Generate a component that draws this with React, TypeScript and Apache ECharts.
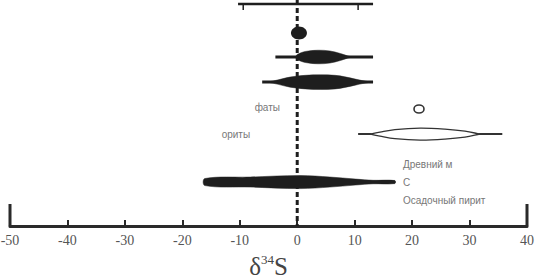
import React, { useEffect, useRef } from "react";
import * as echarts from "echarts";

// x axis
const xMin = -50;
const xMax = 40;
const xStep = 10;

// rows (y in row units, axis inverted)
const yMax = 9;
const rowTop = 0.16;
const rowDot = 1.31;
const row2 = 2.27;
const row3 = 3.27;
const rowOpenDot = 4.34;
const rowOpenLens = 5.34;
const rowBig = 7.25;

// top bar
const topRange = [-10.3, 13.2];
const topTicks = [-9.4, 10.6];

// filled dot
const dotX = 0.3;

// row 2 spindle
const range2 = [-3.8, 13.2];
const profile2 = [[-0.3, 0], [0, 0.1], [1.4, 0.22], [3.6, 0.27], [5.7, 0.24], [7.5, 0.14], [8.7, 0.05], [9.5, 0]];

// row 3 spindle
const range3 = [-6.1, 13.2];
const profile3 = [[-5.1, 0], [-3.3, 0.09], [-1.25, 0.2], [1.4, 0.27], [4.0, 0.29], [6.6, 0.27], [8.3, 0.21], [10.1, 0.12], [11.3, 0.06], [12.3, 0.02]];

// open dot
const openDotX = 21.2;

// open lens
const rangeOpen = [10.6, 35.7];
const profileOpen = [[12.7, 0], [14.4, 0.08], [17.0, 0.18], [21.4, 0.24], [25.7, 0.2], [29.2, 0.12], [31.8, 0]];

// big spindle
const rangeBig = [-16.1, 17.0];
const profileBig = [[-16.1, 0.14], [-8.2, 0.2], [0.5, 0.26], [5.7, 0.2], [10.1, 0.12], [13.2, 0.07], [17.0, 0.06]];

// notes
const leftNotes = ["фаты", "ориты"];
const leftNoteX = [-3.0, -8.2];
const leftNoteY = [4.3, 5.34];
const rightNotes = ["Древний м", "С", "Осадочный пирит"];
const rightNoteX = 18.4;
const rightNoteY = [6.57, 7.25, 7.97];

// end ticks of the bottom axis
const endTickFrom = 8.12;

const INK = "#1e1e1e";
const SERIF = "Liberation Serif, DejaVu Serif, serif";

type Shape =
  | { kind: "bar"; range: number[]; y: number; ticks?: number[]; width: number; color: string }
  | { kind: "lens"; profile: number[][]; y: number; fill: string; stroke: string; lw: number }
  | { kind: "dot"; x: number; y: number; rx: number; ry: number; fill: string; stroke: string; lw: number }
  | { kind: "text"; text: string; x: number; y: number; align: string };

const shapes: Shape[] = [
  { kind: "bar", range: topRange, y: rowTop, ticks: topTicks, width: 2.5, color: INK },
  { kind: "dot", x: dotX, y: rowDot, rx: 8, ry: 6.5, fill: INK, stroke: INK, lw: 0 },
  { kind: "bar", range: range2, y: row2, width: 3, color: INK },
  { kind: "lens", profile: profile2, y: row2, fill: INK, stroke: INK, lw: 0.5 },
  { kind: "bar", range: range3, y: row3, width: 3, color: INK },
  { kind: "lens", profile: profile3, y: row3, fill: INK, stroke: INK, lw: 0.5 },
  { kind: "dot", x: openDotX, y: rowOpenDot, rx: 5, ry: 4, fill: "#fff", stroke: "#333", lw: 1.6 },
  { kind: "bar", range: rangeOpen, y: rowOpenLens, width: 2, color: "#333" },
  { kind: "lens", profile: profileOpen, y: rowOpenLens, fill: "#fff", stroke: "#333", lw: 1.3 },
  { kind: "bar", range: rangeBig, y: rowBig, width: 3, color: INK },
  { kind: "lens", profile: profileBig, y: rowBig, fill: INK, stroke: INK, lw: 0.5 },
  ...leftNotes.map((t, i) => ({ kind: "text" as const, text: t, x: leftNoteX[i], y: leftNoteY[i], align: "right" })),
  ...rightNotes.map((t, i) => ({ kind: "text" as const, text: t, x: rightNoteX, y: rightNoteY[i], align: "left" })),
];

function renderItem(params: any, api: any) {
  const s = shapes[params.dataIndex];
  if (s.kind === "bar") {
    const a = api.coord([s.range[0], s.y]);
    const b = api.coord([s.range[1], s.y]);
    const children: any[] = [
      { type: "line", shape: { x1: a[0], y1: a[1], x2: b[0], y2: b[1] }, style: { stroke: s.color, lineWidth: s.width } },
    ];
    (s.ticks || []).forEach((t) => {
      const p = api.coord([t, s.y]);
      children.push({ type: "line", shape: { x1: p[0], y1: p[1], x2: p[0], y2: p[1] + 6 }, style: { stroke: s.color, lineWidth: 1.5 } });
    });
    return { type: "group", children };
  }
  if (s.kind === "lens") {
    const top = s.profile.map(([x, h]) => api.coord([x, s.y - h]));
    const bot = s.profile.slice().reverse().map(([x, h]) => api.coord([x, s.y + h]));
    return {
      type: "polygon",
      shape: { points: top.concat(bot), smooth: 0.35 },
      style: { fill: s.fill, stroke: s.stroke, lineWidth: s.lw },
    };
  }
  if (s.kind === "dot") {
    const c = api.coord([s.x, s.y]);
    return {
      type: "ellipse",
      shape: { cx: c[0], cy: c[1], rx: s.rx, ry: s.ry },
      style: { fill: s.fill, stroke: s.stroke, lineWidth: s.lw },
    };
  }
  const p = api.coord([s.x, s.y]);
  return {
    type: "text",
    x: p[0],
    y: p[1],
    style: {
      text: s.text,
      fill: "#777",
      fontSize: 10,
      fontFamily: "Liberation Sans, Arial, sans-serif",
      align: s.align,
      verticalAlign: "middle",
    },
  };
}

export default function App() {
  const ref = useRef<HTMLDivElement>(null);
  useEffect(() => {
    if (!ref.current) return;
    const chart = echarts.init(ref.current, undefined, { renderer: "svg" });
    chart.setOption({
      animation: false,
      backgroundColor: "#fff",
      grid: { left: 10, right: 15, top: 0, bottom: 53, containLabel: false, outerBoundsMode: "none" },
      xAxis: {
        type: "value",
        position: "bottom",
        min: xMin,
        max: xMax,
        interval: xStep,
        splitLine: { show: false },
        axisLine: { onZero: false, lineStyle: { color: "#2a2a2a", width: 3 } },
        axisTick: { inside: true, length: 6, lineStyle: { color: "#2a2a2a", width: 2 } },
        axisLabel: {
          margin: 7,
          color: "#555",
          fontSize: 14,
          fontFamily: SERIF,
        },
        name: "{a|δ}{b|34}{a|S}",
        nameLocation: "middle",
        nameGap: 27,
        nameTextStyle: {
          rich: {
            a: { fontSize: 25, color: "#444", fontFamily: SERIF, lineHeight: 26, verticalAlign: "bottom" },
            b: { fontSize: 13, color: "#444", fontFamily: SERIF, lineHeight: 26, verticalAlign: "top", padding: [0, 0, 10, 0] },
          },
        },
      },
      yAxis: { type: "value", min: 0, max: yMax, inverse: true, show: false },
      series: [
        {
          type: "line",
          data: [[0, 0], [0, yMax]],
          symbol: "none",
          lineStyle: { color: INK, width: 3, type: [5, 3] },
          z: 1,
        },
        {
          type: "line",
          data: [[xMin, endTickFrom], [xMin, yMax]],
          symbol: "none",
          lineStyle: { color: "#2a2a2a", width: 3 },
        },
        {
          type: "line",
          data: [[xMax, endTickFrom], [xMax, yMax]],
          symbol: "none",
          lineStyle: { color: "#2a2a2a", width: 3 },
        },
        {
          type: "custom",
          renderItem,
          clip: false,
          data: shapes.map((_, i) => [0, i]),
          z: 2,
        },
      ],
    });
    return () => chart.dispose();
  }, []);
  return <div ref={ref} style={{ width: 542, height: 279, position: "fixed", left: 0, top: 0 }} />;
}
